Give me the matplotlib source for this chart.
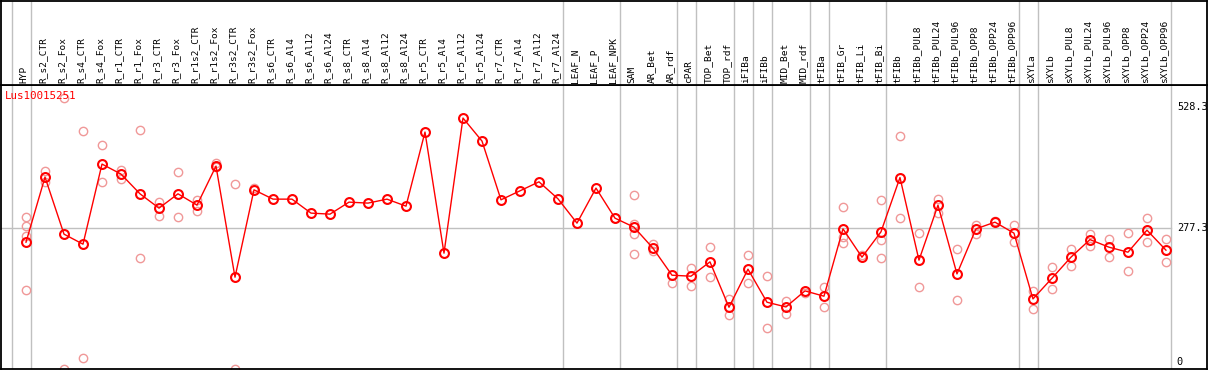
import matplotlib
matplotlib.use('Agg')
import matplotlib.pyplot as plt

gene = 'Lus10015251'

labels = ['HYP', 'R_s2_CTR', 'R_s2_Fox', 'R_s4_CTR', 'R_s4_Fox', 'R_r1_CTR', 'R_r1_Fox',
          'R_r3_CTR', 'R_r3_Fox', 'R_r1s2_CTR', 'R_r1s2_Fox', 'R_r3s2_CTR', 'R_r3s2_Fox',
          'R_s6_CTR', 'R_s6_Al4', 'R_s6_Al12', 'R_s6_Al24',
          'R_s8_CTR', 'R_s8_Al4', 'R_s8_Al12', 'R_s8_Al24',
          'R_r5_CTR', 'R_r5_Al4', 'R_r5_Al12', 'R_r5_Al24',
          'R_r7_CTR', 'R_r7_Al4', 'R_r7_Al12', 'R_r7_Al24',
          'LEAF_N', 'LEAF_P', 'LEAF_NPK', 'SAM', 'AR_Bet', 'AR_rdf', 'cPAR',
          'TOP_Bet', 'TOP_rdf', 'iFIBa', 'iFIBb', 'MID_Bet', 'MID_rdf', 'tFIBa',
          'tFIB_Gr', 'tFIB_Li', 'tFIB_Bi', 'tFIBb',
          'tFIBb_PUL8', 'tFIBb_PUL24', 'tFIBb_PUL96', 'tFIBb_OPP8', 'tFIBb_OPP24', 'tFIBb_OPP96',
          'sXYLa', 'sXYLb',
          'sXYLb_PUL8', 'sXYLb_PUL24', 'sXYLb_PUL96', 'sXYLb_OPP8', 'sXYLb_OPP24', 'sXYLb_OPP96']

# mean expression per sample
means = [248.3, 382.9, 264.9, 244.2, 409.8, 389.1, 348.3, 318.7, 348.3, 324.9, 405.6, 175.9, 356.6,
         337.3, 337.3, 308.4, 306.3, 331.1, 329.1, 337.3, 322.8,
         476.0, 225.6, 505.0, 457.4, 335.9, 354.5, 373.1, 338.0,
         287.7, 360.1, 298.0, 279.4, 235.9, 180.0, 178.0,
         207.6, 113.8, 192.5, 124.2, 114.4, 147.6, 136.6,
         275.9, 217.3, 269.7, 382.0,
         211.1, 324.9, 182.7, 275.9, 289.7, 267.0,
         131.0, 173.8,
         217.3, 253.7, 238.0, 227.6, 273.2, 231.8]

# replicate values (index of sample, value)
rep_idx = [0, 0, 0, 0, 1, 1, 2, 2, 3, 3, 4, 4, 5, 5, 6, 6, 7, 7, 8, 8, 9, 9, 10, 10, 11, 11, 12,
           31, 32, 32, 32, 32, 33, 33, 34, 35, 35, 36, 36, 37, 37, 38, 38, 39, 39, 40, 40, 41,
           42, 42, 43, 43, 43, 44, 45, 45, 45, 46, 46, 47, 47, 48, 48, 49, 49, 50, 50, 51,
           52, 52, 53, 53, 54, 54, 55, 55, 56, 56, 57, 57, 58, 58, 59, 59, 60, 60]
rep_val = [300.1, 282.7, 261.4, 149.0, 395.9, 373.1, 547.0, -13.0, 478.1, 8.3, 449.1, 372.5,
           398.0, 379.3, 480.1, 215.2, 331.1, 303.4, 393.2, 300.1, 335.9, 313.7, 411.0, 403.0,
           368.4, -13.0, 360.1,
           298.0, 346.2, 286.2, 264.9, 224.1, 244.2, 230.3, 164.1, 194.5, 158.5, 238.0, 175.9,
           131.6, 98.5, 221.4, 163.5, 178.0, 70.4, 127.5, 100.0, 142.8,
           155.8, 114.4, 320.8, 259.9, 246.3, 222.1, 335.3, 253.1, 216.5, 467.7, 298.0,
           267.0, 155.2, 338.0, 308.4, 233.9, 128.3, 283.5, 265.5, 293.0,
           284.1, 248.3, 147.6, 109.7, 197.2, 151.1, 233.9, 199.9, 265.5, 241.3,
           255.2, 218.5, 267.0, 188.3, 298.0, 248.3, 255.2, 207.0]

# group boundaries (after these sample indices)
group_ends = [-1, 0, 28, 31, 34, 35, 37, 38, 39, 41, 42, 45, 52, 53, 60]

ref_value = 277.3
top_value = 528.3

W, H = 1209, 370
fig = plt.figure(figsize=(W / 100, H / 100), dpi=100)

xlim = (-1.316, 62.16)
ylim = (-13.9, 573.3)

ax = fig.add_axes([1 / W, 1 / H, 1206 / W, 284 / H])
hd = fig.add_axes([1 / W, 285 / H, 1206 / W, 84 / H])

for a in (ax, hd):
    a.set_xlim(xlim)
    a.set_xticks([])
    a.set_yticks([])
    for s in a.spines.values():
        s.set_color('black')
        s.set_linewidth(1.3)
    for g in group_ends:
        a.axvline(g + 0.25, color='#c0c0c0', lw=1, zorder=0)

ax.set_ylim(ylim)
hd.set_ylim(0, 1)

ax.axhline(ref_value, xmin=0, xmax=0.970, color='#c0c0c0', lw=1, zorder=0)

x = list(range(len(labels)))
ax.plot(rep_idx, rep_val, 'o', ls='none', ms=6, mfc='none', mec='#f09898', mew=1.0,
        clip_on=True, zorder=2)
ax.plot(x, means, '-', color='red', lw=1, zorder=3)
ax.plot(x, means, 'o', ls='none', ms=6.4, mfc='none', mec='red', mew=1.5, zorder=4)

for i, lab in enumerate(labels):
    hd.text(i - 0.1, 0.025, lab, rotation=90, ha='center', va='bottom',
            family='DejaVu Sans Mono', fontsize=6.8, color='black')

ax.text(0.003, 0.962, gene, transform=ax.transAxes, color='red',
        family='DejaVu Sans Mono', fontsize=7.8, ha='left', va='center')

tr = ax.get_yaxis_transform()
for v, s in [(top_value, '528.3'), (ref_value, '277.3'), (0, '0')]:
    ax.text(0.975, v, s, transform=tr, ha='left', va='center',
            family='DejaVu Sans Mono', fontsize=7.4, color='black')

fig.savefig('out.png', dpi=100)
